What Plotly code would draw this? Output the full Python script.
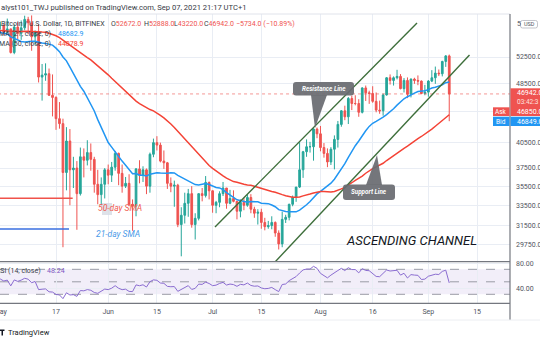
import numpy as np
import pandas as pd
import plotly.graph_objects as go

W, H = 540, 340
def px(x): return x / W
def py(y): return 1 - y / H

# ---------------- data ----------------
warmup_close = [49600, 48400, 50500, 48400, 48800, 48900, 51200, 52300, 54900, 55900, 57500, 57200,
                61200, 59000, 55600, 56900, 58900, 57600, 58300, 58100, 57400, 54100, 54300, 52300,
                51300, 55100, 55900, 55800, 57600, 58800, 58800,
                59000, 59100, 57100, 58200, 59100, 58000, 56000, 58100, 58100, 59800, 59900, 59800,
                63500, 62900, 63200, 61500, 60100, 56200, 55700, 56500, 53800, 51700, 51100, 50100,
                49100, 54000, 55000, 54800, 53600]
warmup_start = "2021-03-01"

start_date = "2021-04-30"
opens = [53600,
 57750, 57800, 56580, 57170, 53220, 57480, 56400, 57350, 58840, 58240, 55820, 56700, 49400, 49700, 49900, 46750,
 46450, 43550, 42900, 37000, 40700, 37300, 37500, 34700, 38800, 38400, 39300, 38500, 35700, 34600, 35700,
 37300, 36700, 37600, 39200, 36900, 35500, 35800, 33600, 33400, 37400, 36700, 37300, 35500, 39100, 40500,
 40200, 38300, 38100, 35800, 35500, 35600, 31600, 32500, 33700, 34700, 31600, 32200, 34700, 34500, 35900,
 35000, 33500, 33800, 34700, 35300, 33700, 34200, 33900, 32900, 33800, 33500, 34300, 33100, 32700, 32800,
 31800, 31400, 31500, 31800, 30800, 29800, 32100, 32300, 33600, 34300, 35400, 37300, 39400, 40000, 40000, 42200,
 41600, 39900, 39200, 38200, 39700, 40900, 42800, 44600, 43800, 46300, 45600, 45600, 44400, 47800, 47100,
 47000, 45900, 44700, 44600, 46800, 49300, 48900, 49300, 49500, 47700, 48900, 46900, 49100, 48900, 48800, 47000,
 47200, 48800, 49300, 50000, 49900, 51800, 52672]
highs = [58000,
 58450, 57950, 58980, 57200, 57950, 58360, 58650, 59500, 59300, 59550, 56900, 58000, 51400, 51500, 50700, 49800,
 46600, 45800, 43550, 42450, 42200, 38800, 38300, 39900, 39800, 40800, 40400, 38800, 37300, 36450, 37500,
 37900, 38200, 39500, 39300, 37900, 36500, 36800, 34100, 37500, 38400, 37700, 37450, 39300, 41000, 41300,
 40500, 39550, 38200, 36450, 36100, 35750, 33300, 34800, 35200, 35500, 32700, 34700, 35300, 36600, 36000,
 35050, 33950, 34950, 35950, 35300, 35100, 35050, 33900, 34100, 34250, 34600, 34650, 33350, 33100, 33150,
 32250, 31950, 32400, 31900, 31050, 32850, 32550, 33650, 34500, 35400, 40550, 39500, 40900, 40600, 42300, 42400,
 42600, 40450, 39800, 39950, 41400, 43250, 44700, 45300, 46500, 46700, 46750, 46200, 47900, 48150, 47400,
 48050, 47150, 46000, 47000, 49400, 49800, 49500, 50500, 49850, 49250, 49350, 49200, 49300, 49650, 48900, 48250,
 48950, 50450, 51000, 50550, 51900, 52800, 52888]
lows = [53100,
 57050, 56050, 56480, 53050, 52950, 55400, 55300, 56950, 56300, 53500, 54450, 48600, 46000, 48850, 46650, 43850,
 42100, 42250, 29500, 35050, 33500, 35300, 31100, 34500, 36450, 37800, 37200, 34800, 33600, 33500, 34200,
 35700, 35950, 37200, 35600, 34800, 35300, 33400, 31000, 32400, 35800, 35950, 34650, 34800, 38750, 39550,
 38150, 37400, 35200, 34850, 33350, 31350, 28700, 31700, 32350, 31300, 30200, 32000, 33900, 34300, 34100,
 32750, 32700, 33300, 34450, 33150, 33600, 33800, 32100, 32300, 33000, 33350, 32700, 32250, 31600, 31200,
 31050, 31200, 31150, 30450, 29300, 29500, 31750, 32000, 33400, 33850, 35300, 36400, 38800, 39300, 38350, 41050,
 39450, 38700, 37600, 37850, 37350, 39900, 42500, 43350, 42850, 44700, 45350, 43800, 44250, 45950, 45550,
 45700, 44400, 44200, 43950, 46700, 48300, 48150, 49050, 47600, 47150, 46350, 46450, 48400, 48200, 46900, 46750,
 46550, 48650, 48400, 49550, 49500, 50950, 43220]
closes = [57750,
 57800, 56580, 57170, 53220, 57480, 56400, 57350, 58840, 58240, 55820, 56700, 49400, 49700, 49900, 46750, 46450,
 43550, 42900, 37000, 40700, 37300, 37500, 34700, 38800, 38400, 39300, 38500, 35700, 34600, 35700, 37300,
 36700, 37600, 39200, 36900, 35500, 35800, 33600, 33400, 37400, 36700, 37300, 35500, 39100, 40500, 40200,
 38300, 38100, 35800, 35500, 35600, 31600, 32500, 33700, 34700, 31600, 32200, 34700, 34500, 35900, 35000,
 33500, 33800, 34700, 35300, 33700, 34200, 33900, 32900, 33800, 33500, 34300, 33100, 32700, 32800, 31800,
 31400, 31500, 31800, 30800, 29800, 32100, 32300, 33600, 34300, 35400, 37300, 39400, 40000, 40000, 42200, 41600,
 39900, 39200, 38200, 39700, 40900, 42800, 44600, 43800, 46300, 45600, 45600, 44400, 47800, 47100, 47000,
 45900, 44700, 44600, 46800, 49300, 48900, 49300, 49500, 47700, 48900, 46900, 49100, 48900, 48800, 47000, 47200,
 48800, 49300, 50000, 49900, 51800, 52672, 46942]

price_ticks = [29750, 31500, 33500, 35500, 37500, 40500, 44500, 48500, 52500]
price_tick_text = ["29750.00", "31500.00", "33500.00", "35500.00", "37500.00", "40500.00", "", "48500.00", "52500.00"]
date_ticks = ["2021-05-01", "2021-05-17", "2021-06-01", "2021-06-15", "2021-07-01",
              "2021-07-15", "2021-08-01", "2021-08-16", "2021-09-01", "2021-09-15"]
date_tick_text = ["May", "17", "Jun", "15", "Jul", "15", "Aug", "16", "Sep", "15"]
rsi_ticks = [40, 80]
rsi_tick_text = ["40.00", "80.00"]
last_price = 46942

channel_upper_dates = ["2021-07-01 16:30", "2021-08-28 17:45"]
channel_upper_prices = [31364, 58197]
channel_lower_dates = ["2021-07-17 11:45", "2021-09-12 19:40"]
channel_lower_prices = [27758, 52819]
sma50_marker_dates = ["2021-04-20", "2021-05-21 19:00"]
sma50_marker_prices = [34215, 34215]
sma21_marker_dates = ["2021-04-20", "2021-05-20 17:45"]
sma21_marker_prices = [31175, 31175]

# ---------------- indicators ----------------
dates = pd.date_range(start_date, periods=len(closes), freq="D")
all_close = pd.Series(warmup_close + closes,
                      index=pd.date_range(warmup_start, periods=len(warmup_close) + len(closes), freq="D"))
sma21 = all_close.rolling(21).mean()
sma50 = all_close.rolling(50).mean()
delta = all_close.diff()
gain = delta.clip(lower=0)
loss = -delta.clip(upper=0)
ag = gain.ewm(alpha=1 / 14, adjust=False).mean()
al = loss.ewm(alpha=1 / 14, adjust=False).mean()
rsi = 100 - 100 / (1 + ag / al)
vis = all_close.index >= pd.Timestamp("2021-04-25")

GREEN = "#26a69a"
RED = "#ef5350"
BLUE = "#2196f3"
GRID = "#e9edf4"
TXT = "#50535e"
FONT = "Roboto"

fig = go.Figure()
fig.add_trace(go.Scatter(x=["2021-04-20", "2021-09-30"], y=[last_price, last_price], mode="lines",
                         line=dict(color="rgba(239,83,80,0.6)", width=1, dash="dot"),
                         xaxis="x", yaxis="y", hoverinfo="skip"))
fig.add_trace(go.Candlestick(x=dates, open=opens, high=highs, low=lows, close=closes,
                             increasing=dict(line=dict(color=GREEN, width=1), fillcolor=GREEN),
                             decreasing=dict(line=dict(color=RED, width=1), fillcolor=RED),
                             whiskerwidth=0, xaxis="x", yaxis="y", hoverinfo="skip"))
fig.add_trace(go.Scatter(x=all_close.index[vis], y=sma21[vis], mode="lines",
                         line=dict(color=BLUE, width=1.5), xaxis="x", yaxis="y", hoverinfo="skip"))
fig.add_trace(go.Scatter(x=all_close.index[vis], y=sma50[vis], mode="lines",
                         line=dict(color="#f44336", width=1.5), xaxis="x", yaxis="y", hoverinfo="skip"))
for dts, prs in [(channel_upper_dates, channel_upper_prices), (channel_lower_dates, channel_lower_prices)]:
    fig.add_trace(go.Scatter(x=dts, y=prs, mode="lines", line=dict(color="#3d6e3a", width=1.4),
                             xaxis="x", yaxis="y", hoverinfo="skip"))
fig.add_trace(go.Scatter(x=sma50_marker_dates, y=sma50_marker_prices, mode="lines",
                         line=dict(color="#f0524a", width=1.4), xaxis="x", yaxis="y", hoverinfo="skip"))
fig.add_trace(go.Scatter(x=sma21_marker_dates, y=sma21_marker_prices, mode="lines",
                         line=dict(color="#3a6fe0", width=1.4), xaxis="x", yaxis="y", hoverinfo="skip"))
fig.add_trace(go.Scatter(x=all_close.index[vis], y=rsi[vis], mode="lines",
                         line=dict(color="#8a6cd0", width=1), xaxis="x2", yaxis="y2", hoverinfo="skip"))

x_range = ["2021-04-30 21:47", "2021-09-24 11:00"]
main_dom = [py(261.7), py(14)]
rsi_dom = [py(303.3), py(261.7)]
xdom = [0, 510 / W]

fig.update_layout(
    width=W, height=H, margin=dict(l=0, r=0, t=0, b=0), template="none",
    paper_bgcolor="white", plot_bgcolor="white", showlegend=False,
    font=dict(family=FONT, size=7, color=TXT),
    xaxis=dict(domain=xdom, range=x_range, anchor="y", tickvals=date_ticks, showticklabels=False,
               showgrid=True, gridcolor=GRID, gridwidth=1, zeroline=False, showline=False,
               rangeslider=dict(visible=False), ticks=""),
    yaxis=dict(domain=main_dom, type="log", range=[4.45078, 4.77675], side="right", anchor="x",
               tickvals=price_ticks, ticktext=price_tick_text, showgrid=True, gridcolor=GRID,
               zeroline=False, showline=False, ticks="", ticklabelstandoff=5, ticklabeloverflow="allow",
               tickfont=dict(family=FONT, size=7, color=TXT)),
    xaxis2=dict(domain=xdom, range=x_range, anchor="y2", tickvals=date_ticks, ticktext=date_tick_text,
                showgrid=True, gridcolor=GRID, zeroline=False, showline=False, ticks="",
                ticklabelstandoff=3, ticklabeloverflow="allow",
                tickfont=dict(family=FONT, size=7, color=TXT)),
    yaxis2=dict(domain=rsi_dom, range=[15.6, 82.2], side="right", anchor="x2",
                tickvals=rsi_ticks, ticktext=rsi_tick_text, showgrid=True, gridcolor=GRID,
                zeroline=False, showline=False, ticks="", ticklabelstandoff=5, ticklabeloverflow="allow",
                tickfont=dict(family=FONT, size=7, color=TXT)),
)

shapes = []
# RSI band + dashed levels
shapes.append(dict(type="rect", xref="x2 domain", yref="y2", x0=0, x1=1, y0=30, y1=70,
                   fillcolor="rgba(126,87,194,0.10)", line=dict(width=0), layer="below"))
for lv in [30, 50, 70]:
    shapes.append(dict(type="line", xref="x2 domain", yref="y2", x0=0, x1=1, y0=lv, y1=lv,
                       line=dict(color="#9a9ca6", width=1, dash="dash"), layer="below"))

def line_px(x0, y0, x1, y1, color, width=1):
    return dict(type="line", xref="paper", yref="paper", x0=px(x0), y0=py(y0), x1=px(x1), y1=py(y1),
                line=dict(color=color, width=width), layer="above")

def rect_px(x0, y0, x1, y1, fill, line_color=None):
    return dict(type="rect", xref="paper", yref="paper", x0=px(x0), y0=py(y0), x1=px(x1), y1=py(y1),
                fillcolor=fill, line=dict(width=0 if line_color is None else 0.8,
                                          color=line_color or fill), layer="above")

def rrect_path(x0, y0, x1, y1, r):
    P = lambda x, y: f"{px(x):.5f},{py(y):.5f}"
    return (f"M{P(x0 + r, y0)} L{P(x1 - r, y0)} Q{P(x1, y0)} {P(x1, y0 + r)} L{P(x1, y1 - r)} "
            f"Q{P(x1, y1)} {P(x1 - r, y1)} L{P(x0 + r, y1)} Q{P(x0, y1)} {P(x0, y1 - r)} "
            f"L{P(x0, y0 + r)} Q{P(x0, y0)} {P(x0 + r, y0)} Z")

def tri_path(pts):
    return "M" + " L".join(f"{px(x):.5f},{py(y):.5f}" for x, y in pts) + " Z"

CALL = "rgba(105,108,113,0.93)"
# Resistance callout
shapes.append(dict(type="path", xref="paper", yref="paper", path=rrect_path(293, 82, 354, 95.5, 3),
                   fillcolor=CALL, line=dict(width=0), layer="above"))
shapes.append(dict(type="path", xref="paper", yref="paper", path=tri_path([(311, 95), (327, 95), (315, 128)]),
                   fillcolor=CALL, line=dict(width=0), layer="above"))
# Support callout
shapes.append(dict(type="path", xref="paper", yref="paper", path=rrect_path(343, 184.5, 395, 200, 3),
                   fillcolor=CALL, line=dict(width=0), layer="above"))
shapes.append(dict(type="path", xref="paper", yref="paper", path=tri_path([(366, 185), (382, 185), (377, 155)]),
                   fillcolor=CALL, line=dict(width=0), layer="above"))
# highlight behind "50-day"
shapes.append(rect_px(102, 203, 112, 215, "rgba(214,219,228,0.8)"))

# pane borders
shapes.append(line_px(0, 14, 510, 14, "#e0e3eb"))
shapes.append(line_px(0, 261.7, 510, 261.7, "#74777f", 1.2))
shapes.append(line_px(0, 303.3, 510, 303.3, "#74777f", 1.2))
shapes.append(line_px(510, 14, 510, 320, "#74777f", 1.2))
shapes.append(line_px(0, 320, 540, 320, "#eceef2"))
shapes.append(rect_px(511, 255, 540, 261.2, "white"))

# price boxes
shapes.append(rect_px(510.5, 88.3, 540, 116, RED))
shapes.append(rect_px(493, 107.3, 509.5, 116, RED))
shapes.append(rect_px(510.5, 116.7, 540, 126, BLUE))
shapes.append(rect_px(493, 116.7, 509.5, 126, BLUE))
# USD badge
shapes.append(dict(type="path", xref="paper", yref="paper", path=rrect_path(520.5, 20.5, 537.5, 28, 2),
                   fillcolor="white", line=dict(width=0.8, color="#b2b5be"), layer="above"))
# footer logo
shapes.append(dict(type="path", xref="paper", yref="paper",
                   path=tri_path([(0, 329.5), (4.5, 329.5), (4.5, 331), (3, 331), (3, 335.5), (1.5, 335.5), (1.5, 331), (0, 331)]),
                   fillcolor="#131722", line=dict(width=0), layer="above"))
fig.update_layout(shapes=shapes)

ann = []
def text(x, y, s, size=7, color=TXT, xanchor="left", yanchor="middle", family=FONT):
    ann.append(dict(x=px(x), y=py(y), xref="paper", yref="paper", text=s, showarrow=False,
                    xanchor=xanchor, yanchor=yanchor, font=dict(family=family, size=size, color=color),
                    borderpad=0))

DARK = "#363a45"
text(0, 7, "alyst101_TWJ published on TradingView.com, Sep 07, 2021 21:17 UTC+1", size=7.6, color=DARK)
text(106, 24.5, "Bitcoin / U.S. Dollar, 1D, BITFINEX", color=DARK, xanchor="right")
text(110, 24.5, f"O<span style='color:{RED}'>52672.0</span>", color=DARK)
text(143, 24.5, f"H<span style='color:{RED}'>52888.0</span>", color=DARK)
text(173, 24.5, f"L<span style='color:{RED}'>43220.0</span>", color=DARK)
text(203, 24.5, f"C<span style='color:{RED}'>46942.0</span>", color=DARK)
text(235, 24.5, "−5734.0 (−10.89%)", color=RED)
text(52, 34, "MA (21, close, 0)", color=DARK, xanchor="right")
text(57, 34, "48682.9", color=BLUE)
text(52, 43.5, "MA (50, close, 0)", color=DARK, xanchor="right")
text(57, 43.5, "44078.9", color="#f44336")
text(42, 271, "RSI (14, close)", color=DARK, xanchor="right")
text(46, 271, "48.24", color="#7e57c2")

text(97, 207.5, "<i>50-day SMA</i>", size=8.5, color="#f05a4f")
text(95, 233.5, "<i>21-day SMA</i>", size=8.5, color="#4c9be8")
text(345, 240.5, "<i>ASCENDING CHANNEL</i>", size=13, color="#131722")
text(323.5, 88.8, "<b><i>Resistance Line</i></b>", size=6.3, color="white", xanchor="center")
text(369, 192.3, "<b><i>Support Line</i></b>", size=6.3, color="white", xanchor="center")

text(515.5, 93, "46942.0", color="white")
text(515.5, 101.8, "03:42:3", size=6.5, color="#fde0df")
text(515.5, 111.7, "46850.0", color="white")
text(515.5, 121.5, "46849.0", color="white")
text(501.3, 111.7, "Ask", size=6.5, color="white", xanchor="center")
text(501.3, 121.5, "Bid", size=6.5, color="white", xanchor="center")
text(515.5, 24.3, "5", color=TXT)
text(529, 24.3, "USD", size=5.5, color=TXT, xanchor="center")
text(7, 332.5, "TradingView", size=7.5, color="#131722")
fig.update_layout(annotations=ann)

fig.write_html("out.html")
